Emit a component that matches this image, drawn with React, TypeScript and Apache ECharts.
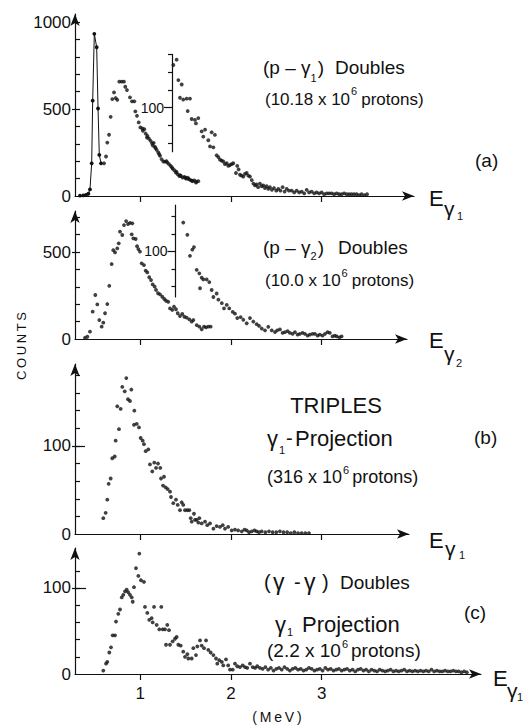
import React, { useEffect, useRef } from "react";
import * as echarts from "echarts";

const FONT = "'Liberation Sans', Arial, sans-serif";
const INK = "#111111";

// ---- data: [energy (MeV), counts] ----
const p1PeakLine = [
  [0.337, 2], [0.374, 3], [0.403, 6], [0.429, 13], [0.447, 38], [0.466, 188], [0.477, 548],
  [0.495, 932], [0.521, 855], [0.536, 503], [0.55, 236], [0.569, 188],
];
const p1Main = [
  [0.602, 188], [0.624, 227], [0.638, 307], [0.657, 352], [0.675, 455], [0.693, 557], [0.712, 595],
  [0.73, 563], [0.748, 553], [0.77, 657], [0.797, 657], [0.822, 657], [0.836, 628], [0.855, 609],
  [0.888, 567], [0.91, 544], [0.936, 544], [0.947, 486], [0.965, 461], [0.984, 423], [1.002, 394],
  [1.024, 388], [1.03, 375], [1.046, 384], [1.061, 359], [1.075, 336], [1.08, 345], [1.098, 329],
  [1.116, 317], [1.131, 302], [1.14, 290], [1.149, 305], [1.164, 282], [1.17, 275], [1.182, 265],
  [1.2, 250], [1.21, 240], [1.219, 231], [1.237, 211], [1.256, 198], [1.274, 198], [1.29, 200],
  [1.299, 192], [1.318, 183], [1.336, 173], [1.35, 165], [1.358, 157], [1.376, 148], [1.395, 134],
  [1.4, 140], [1.414, 125], [1.432, 115], [1.44, 120], [1.45, 115], [1.468, 106], [1.487, 110],
  [1.5, 105], [1.505, 100], [1.524, 106], [1.53, 98], [1.542, 96], [1.56, 90], [1.57, 88],
  [1.579, 85], [1.597, 90], [1.615, 77], [1.62, 82], [1.641, 85],
];
const p1Inset = [
  [1.366, 148], [1.402, 154], [1.421, 131], [1.439, 111], [1.458, 126], [1.475, 109], [1.512, 110],
  [1.524, 96], [1.549, 110], [1.568, 87], [1.604, 86], [1.615, 82], [1.641, 88], [1.678, 73],
  [1.696, 67], [1.715, 75], [1.751, 63], [1.77, 56], [1.788, 72], [1.807, 55], [1.824, 69],
  [1.843, 46], [1.862, 44], [1.88, 41], [1.898, 40], [1.916, 39], [1.935, 36], [1.954, 37],
  [1.972, 34], [1.99, 35], [2.008, 36], [2.026, 37], [2.056, 26], [2.07, 34], [2.085, 30],
  [2.1, 24], [2.118, 23], [2.137, 22], [2.155, 25], [2.174, 26], [2.192, 23], [2.21, 22],
  [2.23, 18], [2.248, 14], [2.266, 12], [2.283, 13], [2.3, 10], [2.32, 14], [2.34, 11],
  [2.357, 12], [2.375, 9], [2.394, 11], [2.412, 8], [2.43, 10], [2.452, 7], [2.475, 9],
  [2.5, 6], [2.522, 8], [2.546, 6], [2.57, 10], [2.592, 5], [2.615, 8], [2.64, 6], [2.67, 6],
  [2.698, 4], [2.725, 6], [2.752, 4], [2.78, 5], [2.808, 3], [2.835, 7], [2.862, 4], [2.89, 5],
  [2.918, 3], [2.945, 4], [2.972, 3], [3.0, 4], [3.028, 2], [3.056, 3], [3.083, 3], [3.11, 3],
  [3.138, 2], [3.166, 3], [3.193, 2], [3.22, 2], [3.248, 3], [3.276, 2], [3.303, 2], [3.33, 2],
  [3.358, 2], [3.386, 2], [3.413, 1], [3.44, 2], [3.47, 1], [3.5, 2],
];
const p2Main = [
  [0.392, 7], [0.418, 13], [0.447, 42], [0.477, 157], [0.506, 253], [0.528, 199], [0.55, 109],
  [0.576, 71], [0.594, 94], [0.613, 148], [0.638, 201], [0.66, 306], [0.686, 431], [0.704, 511],
  [0.723, 498], [0.748, 521], [0.764, 550], [0.778, 617], [0.803, 598], [0.822, 655], [0.845, 678],
  [0.866, 661], [0.888, 668], [0.907, 602], [0.914, 665], [0.925, 579], [0.951, 575], [0.966, 534],
  [0.98, 517], [0.998, 502], [1.017, 435], [1.042, 425], [1.061, 393], [1.079, 383], [1.1, 355],
  [1.12, 339], [1.138, 314], [1.16, 301], [1.175, 282], [1.197, 263], [1.219, 257], [1.244, 243],
  [1.266, 230], [1.285, 220], [1.31, 214], [1.329, 176], [1.354, 167], [1.373, 186], [1.395, 171],
  [1.414, 148], [1.439, 132], [1.464, 144], [1.487, 128], [1.512, 123], [1.542, 113], [1.568, 100],
  [1.586, 109], [1.623, 80], [1.652, 71], [1.678, 56], [1.704, 71], [1.726, 67], [1.751, 71],
  [1.777, 71],
];
const p2Inset = [
  [1.475, 133], [1.52, 119], [1.549, 95], [1.575, 102], [1.593, 105], [1.623, 79], [1.652, 75],
  [1.66, 58], [1.678, 70], [1.696, 68], [1.733, 68], [1.762, 65], [1.788, 56], [1.807, 48],
  [1.843, 52], [1.862, 45], [1.9, 41], [1.924, 35], [1.954, 39], [1.982, 35], [2.02, 31],
  [2.045, 29], [2.07, 24], [2.107, 25], [2.137, 22], [2.174, 18], [2.21, 24], [2.247, 20],
  [2.284, 17], [2.31, 15], [2.34, 12], [2.376, 10], [2.412, 14], [2.45, 10], [2.486, 8],
  [2.51, 10], [2.54, 11], [2.57, 7], [2.596, 8], [2.625, 9], [2.65, 7], [2.68, 6], [2.706, 8],
  [2.735, 5], [2.76, 6], [2.79, 7], [2.816, 6], [2.845, 4], [2.87, 5], [2.9, 6], [2.926, 6],
  [2.955, 4], [2.98, 5], [3.01, 4], [3.037, 6], [3.065, 8], [3.09, 7], [3.12, 3], [3.145, 4],
  [3.166, 3], [3.195, 2], [3.22, 3],
];
const triples = [
  [0.594, 18], [0.62, 24], [0.638, 39], [0.653, 57], [0.675, 63], [0.693, 86], [0.72, 88],
  [0.73, 106], [0.748, 145], [0.767, 119], [0.785, 142], [0.803, 167], [0.83, 162], [0.847, 177],
  [0.866, 153], [0.888, 151], [0.903, 164], [0.932, 124], [0.936, 140], [0.962, 125], [0.987, 121],
  [1.006, 109], [1.028, 106], [1.042, 102], [1.061, 94], [1.09, 96], [1.108, 79], [1.134, 71],
  [1.156, 81], [1.175, 75], [1.197, 80], [1.222, 75], [1.23, 63], [1.252, 55], [1.263, 65],
  [1.281, 53], [1.303, 51], [1.329, 48], [1.34, 42], [1.365, 35], [1.395, 39], [1.414, 33],
  [1.439, 27], [1.458, 36], [1.475, 33], [1.494, 27], [1.52, 27], [1.542, 27], [1.557, 18],
  [1.568, 14], [1.593, 23], [1.604, 16], [1.623, 16], [1.641, 13], [1.652, 18], [1.678, 12],
  [1.715, 14], [1.74, 10], [1.77, 12], [1.807, 6], [1.843, 9], [1.88, 8], [1.91, 10], [1.935, 6],
  [1.97, 8], [2.009, 4], [2.045, 5], [2.08, 4], [2.12, 3], [2.15, 5], [2.174, 4], [2.2, 2],
  [2.23, 3], [2.26, 4], [2.284, 3], [2.31, 2], [2.34, 3], [2.38, 2], [2.42, 3], [2.46, 2],
  [2.5, 2], [2.54, 3], [2.58, 2], [2.62, 2], [2.66, 1], [2.7, 2], [2.74, 1], [2.78, 1],
  [2.82, 1], [2.86, 1],
];
const ggDoubles = [
  [0.594, 4], [0.624, 12], [0.638, 14], [0.66, 25], [0.679, 31], [0.697, 45], [0.723, 45],
  [0.734, 61], [0.759, 70], [0.778, 75], [0.797, 89], [0.814, 92], [0.833, 96], [0.852, 98],
  [0.869, 95], [0.888, 92], [0.907, 89], [0.918, 84], [0.932, 101], [0.954, 123], [0.98, 114],
  [0.991, 140], [1.009, 109], [1.042, 107], [1.053, 78], [1.079, 71], [1.1, 63], [1.127, 65],
  [1.138, 60], [1.153, 78], [1.182, 57], [1.211, 52], [1.233, 78], [1.248, 52], [1.274, 52],
  [1.285, 34], [1.299, 57], [1.318, 51], [1.329, 34], [1.358, 38], [1.384, 41], [1.402, 43],
  [1.421, 34], [1.447, 33], [1.475, 26], [1.494, 20], [1.52, 23], [1.531, 18], [1.568, 18],
  [1.586, 30], [1.615, 22], [1.63, 32], [1.66, 39], [1.678, 33], [1.704, 30], [1.726, 39],
  [1.751, 28], [1.777, 25], [1.807, 22], [1.836, 18], [1.85, 12], [1.872, 16], [1.9, 14],
  [1.916, 10], [1.946, 17], [1.97, 10], [1.99, 5], [2.02, 5], [2.045, 12], [2.07, 9], [2.1, 8],
  [2.13, 10], [2.155, 8], [2.18, 7], [2.21, 12], [2.24, 8], [2.266, 7], [2.29, 9], [2.32, 7],
  [2.35, 6], [2.38, 8], [2.41, 5], [2.44, 7], [2.47, 4], [2.5, 6], [2.53, 7], [2.56, 5],
  [2.59, 8], [2.62, 6], [2.65, 4], [2.68, 6], [2.71, 7], [2.74, 5], [2.77, 6], [2.8, 4],
  [2.83, 5], [2.86, 7], [2.89, 6], [2.92, 4], [2.95, 5], [2.98, 6], [3.01, 4], [3.04, 7],
  [3.07, 5], [3.1, 6], [3.13, 4], [3.16, 5], [3.19, 6], [3.22, 4], [3.25, 5], [3.28, 6],
  [3.31, 4], [3.34, 5], [3.37, 3], [3.4, 5], [3.43, 6], [3.46, 4], [3.49, 5], [3.52, 3],
  [3.55, 5], [3.58, 4], [3.61, 3], [3.64, 5], [3.67, 4], [3.7, 3], [3.73, 4], [3.76, 5],
  [3.79, 3], [3.82, 4], [3.85, 3], [3.88, 4], [3.91, 5], [3.94, 3], [3.97, 4], [4.0, 3],
  [4.03, 4], [4.06, 3], [4.09, 4], [4.12, 3], [4.15, 4], [4.18, 3], [4.21, 5], [4.24, 3],
  [4.27, 4], [4.3, 3], [4.33, 3], [4.36, 4], [4.39, 3], [4.42, 3], [4.45, 4], [4.48, 3],
  [4.51, 3], [4.54, 2], [4.57, 3], [4.6, 2],
];

// ---- ticks / labels ----
const xTicks = [1, 2, 3];
const p1Minor = [100, 200, 300, 400, 500, 600, 700, 800, 900, 1000];
const p1Labels = [0, 500, 1000];
const p2Minor = [100, 200, 300, 400, 500, 600, 700];
const p2Labels = [0, 500];
const p3Minor = [20, 40, 60, 80, 100, 120, 140, 160, 180];
const p4Minor = [20, 40, 60, 80, 100, 120];
const p34Labels = [0, 100];
const insetMinor = [60, 80, 120, 140, 160];
const inset2Minor = [60, 80, 120, 140];
const insetLabels = [100];

const line = { color: INK, width: 1.2 };
const plain = (v: number) => String(v);

function yArrowAxis(gridIndex: number, min: number, max: number, ticks: number[]) {
  return {
    type: "value", gridIndex, position: "left", min, max,
    axisLine: { show: true, onZero: false, symbol: ["none", "arrow"], symbolSize: [7, 12], lineStyle: line },
    axisTick: { show: true, inside: true, length: 5, customValues: ticks, lineStyle: line },
    axisLabel: { show: false },
    splitLine: { show: false },
  };
}
function yInsetAxis(gridIndex: number, min: number, max: number, ticks: number[]) {
  return {
    type: "value", gridIndex, position: "left", min, max,
    axisLine: { show: true, onZero: false, lineStyle: line },
    axisTick: { show: true, inside: false, length: 4, customValues: ticks, lineStyle: line },
    axisLabel: { show: false },
    splitLine: { show: false },
  };
}
function yLabelAxis(gridIndex: number, min: number, max: number, tickVals: number[], labels: number[],
  tickLen: number, inside: boolean, fontSize: number, margin: number) {
  return {
    type: "value", gridIndex, position: "left", min, max,
    axisLine: { show: false },
    axisTick: { show: tickVals.length > 0, inside, length: tickLen, customValues: tickVals, lineStyle: line },
    axisLabel: {
      show: labels.length > 0, customValues: labels, formatter: plain,
      color: INK, fontSize, fontFamily: FONT, margin,
    },
    splitLine: { show: false },
  };
}
function xAxisOf(gridIndex: number, min: number, max: number, visible: boolean, labels: boolean) {
  return {
    type: "value", gridIndex, min, max, show: visible, position: "bottom",
    axisLine: { show: true, onZero: false, symbol: ["none", "arrow"], symbolSize: [7, 12], lineStyle: line },
    axisTick: { show: true, inside: false, length: 6, customValues: xTicks, lineStyle: line },
    axisLabel: {
      show: labels, customValues: xTicks, formatter: plain,
      color: INK, fontSize: 17, fontFamily: FONT, margin: 11,
    },
    splitLine: { show: false },
  };
}

let ctx: CanvasRenderingContext2D | null = null;
function textWidth(t: string, size: number) {
  if (!ctx) ctx = document.createElement("canvas").getContext("2d");
  if (!ctx) return t.length * size * 0.55;
  ctx.font = `${size}px ${FONT}`;
  return ctx.measureText(t).width;
}

function txt(x: number, y: number, text: string, fontSize: number, align = "left", rotation = 0) {
  return {
    type: "text", x, y, silent: true, rotation,
    style: {
      text, fill: INK, fontSize, fontFamily: FONT,
      align, textAlign: align, verticalAlign: "middle", textVerticalAlign: "middle",
    },
  };
}

type Part = { t: string; size: number; x?: number; dx?: number; dy?: number };
function run(y: number, parts: Part[]) {
  const out: any[] = [];
  let cursor = 0;
  for (const p of parts) {
    const left = p.x !== undefined ? Math.max(p.x, cursor) : cursor + (p.dx || 0);
    out.push(txt(left, y + (p.dy || 0), p.t, p.size));
    cursor = left + textWidth(p.t, p.size);
  }
  return out;
}

function buildOption() {
  const dot = (name: string, data: number[][], xi: number, yi: number) => ({
    name, type: "scatter", data, xAxisIndex: xi, yAxisIndex: yi, symbol: "circle", symbolSize: 3.8,
    clip: false, itemStyle: { color: INK }, silent: true,
  });
  const texts = [
    // panel (a) upper
    ...run(67, [
      { t: "(p – γ", size: 19, x: 263 }, { t: "1", size: 11, dy: 11, dx: 0 },
      { t: ")", size: 19, dx: 1 }, { t: "Doubles", size: 19, x: 335 },
    ]),
    ...run(99, [
      { t: "(10.18 x 10", size: 17, x: 265 }, { t: "6", size: 11, dy: -8, dx: 1 },
      { t: "protons)", size: 17, dx: 4 },
    ]),
    txt(475, 160, "(a)", 19),
    txt(429, 198, "E", 22), txt(444, 208, "γ", 21), txt(457, 216, "1", 11),
    // panel (a) lower
    ...run(247, [
      { t: "(p – γ", size: 19, x: 263 }, { t: "2", size: 11, dy: 9, dx: 0 },
      { t: ")", size: 19, dx: 1 }, { t: "Doubles", size: 19, x: 338 },
    ]),
    ...run(280, [
      { t: "(10.0 x 10", size: 17, x: 265 }, { t: "6", size: 11, dy: -7, dx: 1 },
      { t: "protons)", size: 17, dx: 4 },
    ]),
    txt(429, 340, "E", 22), txt(444, 353, "γ", 21), txt(456, 363, "2", 11),
    // panel (b)
    txt(336, 405, "TRIPLES", 22, "center"),
    ...run(438, [
      { t: "γ", size: 22, x: 267 }, { t: "1", size: 11, dy: 12, dx: 1 },
      { t: "-", size: 20, x: 286 }, { t: "Projection", size: 22, x: 295 },
    ]),
    ...run(477, [
      { t: "(316 x 10", size: 18, x: 267 }, { t: "6", size: 11, dy: -7, dx: 1 },
      { t: "protons)", size: 18, dx: 3 },
    ]),
    txt(474, 437, "(b)", 19),
    txt(429, 540, "E", 22), txt(445, 548, "γ", 21), txt(459, 555, "1", 11),
    // panel (c)
    ...run(582, [
      { t: "(", size: 20, x: 264 }, { t: "γ", size: 23, x: 273 }, { t: "-", size: 20, x: 294 },
      { t: "γ", size: 23, x: 304 }, { t: ")", size: 20, x: 322 }, { t: "Doubles", size: 19, x: 340 },
    ]),
    txt(464, 612, "(c)", 19),
    ...run(624, [
      { t: "γ", size: 22, x: 275 }, { t: "1", size: 11, dy: 8, dx: 1 },
      { t: "Projection", size: 22, x: 302 },
    ]),
    ...run(650, [
      { t: "(2.2 x 10", size: 19, x: 267 }, { t: "6", size: 11, dy: -6, dx: 1 },
      { t: "protons)", size: 19, dx: 3 },
    ]),
    txt(493, 678, "E", 22), txt(507, 690, "γ", 21), txt(517, 697, "1", 11),
    // axis titles
    txt(277, 717, "(\u2009M\u2009e\u2009V\u2009)", 14, "center"),
    txt(21, 346, "C\u2009O\u2009U\u2009N\u2009T\u2009S", 13, "center", Math.PI / 2),
  ];
  return {
    animation: false,
    backgroundColor: "#ffffff",
    grid: [
      { left: 75, right: 110, top: 14, bottom: 529 },
      { left: 172, right: 110, top: 54.4, bottom: 573.25 },
      { left: 75, right: 117, top: 211, bottom: 386 },
      { left: 175.5, right: 117, top: 205, bottom: 428 },
      { left: 75, right: 115, top: 364, bottom: 191 },
      { left: 75, right: 43, top: 548, bottom: 51 },
    ],
    xAxis: [
      xAxisOf(0, 0.2821, 4.0176, true, false),
      xAxisOf(1, 1.351, 4.0176, false, false),
      xAxisOf(2, 0.2821, 3.9405, true, false),
      xAxisOf(3, 1.3895, 3.9405, false, false),
      xAxisOf(4, 0.2821, 3.9625, true, false),
      xAxisOf(5, 0.2821, 4.7559, true, true),
    ],
    yAxis: [
      yArrowAxis(0, 0, 1046, p1Minor), // 0
      yLabelAxis(0, 0, 1046, [500, 1000], p1Labels, 3, false, 17, 4), // 1
      yInsetAxis(1, 50, 160, insetMinor), // 2
      yLabelAxis(1, 50, 160, insetLabels, insetLabels, 8, false, 14, 8), // 3
      yArrowAxis(2, 0, 736, p2Minor), // 4
      yLabelAxis(2, 0, 736, [500], p2Labels, 3, false, 17, 4), // 5
      yInsetAxis(3, 48, 153, inset2Minor), // 6
      yLabelAxis(3, 48, 153, insetLabels, insetLabels, 8, false, 14, 8), // 7
      yArrowAxis(4, 0, 193, p3Minor), // 8
      yLabelAxis(4, 0, 193, [100], p34Labels, 3, false, 17, 4), // 9
      yLabelAxis(4, 0, 193, [100], [], 10, true, 17, 4), // 10
      yArrowAxis(5, 0, 146.5, p4Minor), // 11
      yLabelAxis(5, 0, 146.5, [100], p34Labels, 3, false, 17, 4), // 12
      yLabelAxis(5, 0, 146.5, [100], [], 11, true, 17, 4), // 13
    ],
    series: [
      {
        name: "p-g1 peak", type: "line", data: p1PeakLine, xAxisIndex: 0, yAxisIndex: 0,
        symbol: "circle", symbolSize: 3.8, showSymbol: true, clip: false, silent: true,
        lineStyle: { color: INK, width: 1 }, itemStyle: { color: INK },
      },
      dot("p-g1 doubles", p1Main, 0, 0),
      dot("p-g1 inset", p1Inset, 1, 2),
      dot("p-g2 doubles", p2Main, 2, 4),
      dot("p-g2 inset", p2Inset, 3, 6),
      dot("triples", triples, 4, 8),
      dot("g-g doubles", ggDoubles, 5, 11),
    ],
    graphic: texts,
  };
}

export default function App() {
  const ref = useRef<HTMLDivElement>(null);
  useEffect(() => {
    if (!ref.current) return;
    const chart = echarts.init(ref.current, null, { renderer: "svg" });
    chart.setOption(buildOption() as any);
    return () => chart.dispose();
  }, []);
  return (
    <div
      ref={ref}
      style={{ position: "fixed", left: 0, top: 0, width: 524, height: 725, background: "#fff" }}
    />
  );
}
